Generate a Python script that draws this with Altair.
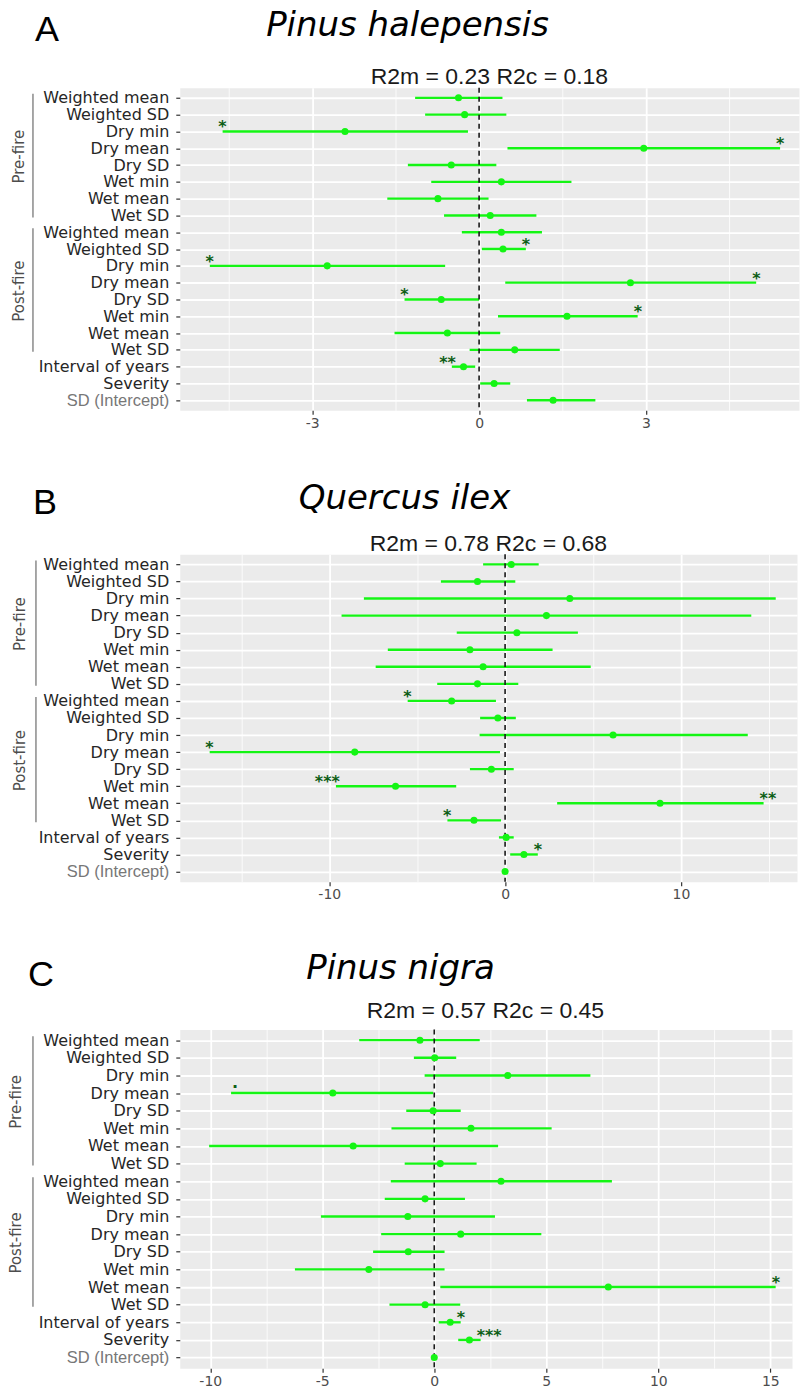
import altair as alt
import pandas as pd

# Fixed-effect rows, top to bottom
terms = ["Weighted mean", "Weighted SD", "Dry min", "Dry mean", "Dry SD",
         "Wet min", "Wet mean", "Wet SD"]
row_keys = (["pre|" + t for t in terms] + ["post|" + t for t in terms]
            + ["all|Interval of years", "all|Severity", "sd|SD (Intercept)"])

# A: Pinus halepensis
a_est = [-0.37, -0.26, -2.41, 2.96, -0.50, 0.40, -0.74, 0.20,
         0.40, 0.43, -2.73, 2.72, -0.68, 1.58, -0.57, 0.64,
         -0.28, 0.27, 1.33]
a_lo = [-1.15, -0.97, -4.61, 0.51, -1.28, -0.86, -1.65, -0.63,
        -0.31, 0.05, -4.84, 0.47, -1.34, 0.34, -1.52, -0.17,
        -0.49, 0.02, 0.86]
a_hi = [0.42, 0.49, -0.20, 5.41, 0.31, 1.66, 0.17, 1.03,
        1.13, 0.84, -0.61, 4.98, 0.00, 2.85, 0.38, 1.45,
        -0.07, 0.56, 2.09]
a_sig = ["", "", "*", "*", "", "", "", "",
         "", "*", "*", "*", "*", "*", "", "",
         "**", "", ""]

# B: Quercus ilex
b_est = [0.35, -1.57, 3.68, 2.35, 0.67, -2.00, -1.25, -1.57,
         -3.04, -0.41, 6.14, -8.55, -0.78, -6.23, 8.81, -1.77,
         0.06, 1.07, 0.00]
b_lo = [-1.25, -3.65, -8.03, -9.30, -2.75, -6.67, -7.36, -3.86,
        -5.54, -1.42, -1.45, -16.8, -2.00, -9.62, 2.96, -3.28,
        -0.35, 0.29, 0.00]
b_hi = [1.91, 0.58, 15.39, 14.00, 4.14, 2.70, 4.87, 0.75,
        -0.52, 0.61, 13.80, -0.29, 0.49, -2.78, 14.70, -0.23,
        0.49, 1.86, 0.00]
b_sig = ["", "", "", "", "", "", "", "",
         "*", "", "", "*", "", "***", "**", "*",
         "", "*", ""]

# C: Pinus nigra
c_est = [-0.64, 0.02, 3.28, -4.53, -0.05, 1.64, -3.62, 0.27,
         2.98, -0.41, -1.18, 1.18, -1.16, -2.92, 7.77, -0.41,
         0.71, 1.57, 0.00]
c_lo = [-3.35, -0.91, -0.43, -9.07, -1.25, -1.91, -10.05, -1.32,
        -1.94, -2.21, -5.06, -2.37, -2.73, -6.22, 0.27, -2.00,
        0.20, 1.07, 0.00]
c_hi = [2.03, 0.98, 6.97, -0.05, 1.18, 5.24, 2.85, 1.89,
        7.93, 1.37, 2.71, 4.78, 0.46, 0.46, 15.24, 1.16,
        1.18, 2.07, 0.00]
c_sig = ["", "", "", ".", "", "", "", "",
         "", "", "", "", "", "", "*", "",
         "*", "***", ""]

GREEN = "#14f514"
STAR = "#0d5e16"
SD_TEST = "datum.value == 'sd|SD (Intercept)'"


def panel(letter, species, r2, est, lo, hi, sig, domain, major, minor,
          width, height, lay):
    df = pd.DataFrame({"key": row_keys, "est": est, "lo": lo, "hi": hi,
                       "sig": sig})
    df["end"] = [l if e < 0 else h for e, l, h in zip(est, lo, hi)]
    step = height / 19.2

    major_js = "[" + ",".join(str(v) for v in major) + "]"
    is_major = f"indexof({major_js}, datum.value) >= 0"
    x_scale = alt.Scale(domain=domain, nice=False, zero=False)
    y_scale = alt.Scale(type="point", domain=row_keys, padding=0.6)

    x_axis = alt.Axis(
        title=None, values=sorted(major + minor),
        labelExpr=f"{is_major} ? '' + datum.value : ''",
        grid=True, gridColor="white",
        gridWidth={"condition": {"test": is_major, "value": 1.8}, "value": 0.8},
        tickOpacity={"condition": {"test": is_major, "value": 1}, "value": 0},
        tickColor="#333333", tickSize=4, tickWidth=1.2, domain=False,
        labelFont="DejaVu Sans", labelFontSize=14, labelColor="#4d4d4d",
        labelPadding=2,
    )
    y_axis = alt.Axis(
        title=None, labelExpr="split(datum.value, '|')[1]",
        labelFont={"condition": {"test": SD_TEST, "value": "Liberation Sans"},
                   "value": "DejaVu Sans"},
        labelColor={"condition": {"test": SD_TEST, "value": "#777777"},
                    "value": "#262626"},
        labelFontSize={"condition": {"test": SD_TEST, "value": 16.5},
                       "value": 16},
        labelLimit=300, labelPadding=7,
        grid=True, gridColor="white", gridWidth=1.8,
        tickColor="#333333", tickSize=4, tickWidth=1.2, domain=False,
    )

    def xq(field):
        return alt.X(field, type="quantitative", scale=x_scale, axis=x_axis)

    def yn(field):
        return alt.Y(field, type="nominal", scale=y_scale, axis=y_axis)

    base = alt.Chart(df)
    bars = base.mark_rule(color=GREEN, strokeWidth=2.4).encode(
        x=xq("lo"), x2="hi:Q", y=yn("key"),
    )
    zero = alt.Chart(pd.DataFrame({"z": [0]})).mark_rule(
        color="#1a1a1a", strokeDash=[5, 4], strokeWidth=1.6
    ).encode(x=xq("z"))
    dots = base.mark_circle(color=GREEN, opacity=1, size=50).encode(
        x=xq("est"), y=yn("key"),
    )

    star_font = dict(font="DejaVu Sans", fontWeight="bold", fontSize=16,
                     color=STAR, baseline="alphabetic")
    stars_neg = base.transform_filter(
        "datum.sig != '' && datum.sig != '.' && datum.est < 0"
    ).mark_text(align="right", dx=4, dy=1, **star_font).encode(
        x=xq("end"), y=yn("key"), text="sig:N",
    )
    stars_pos = base.transform_filter(
        "datum.sig != '' && datum.sig != '.' && datum.est >= 0"
    ).mark_text(align="left", dx=-4, dy=1, **star_font).encode(
        x=xq("end"), y=yn("key"), text="sig:N",
    )
    marginal = base.transform_filter("datum.sig == '.'").mark_text(
        align="right", dx=7, dy=-5, **star_font
    ).encode(x=xq("end"), y=yn("key"), text="sig:N")

    groups = pd.DataFrame({
        "lab": ["Pre-fire", "Post-fire"],
        "start": ["pre|Weighted mean", "post|Weighted mean"],
        "stop": ["pre|Wet SD", "post|Wet SD"],
        "mid": ["pre|Dry SD", "post|Dry SD"],
    })
    bracket = alt.Chart(groups).mark_rule(
        color="#8a8a8a", strokeWidth=1.5, yOffset=-4, y2Offset=2
    ).encode(
        x=alt.value(lay["line_x"]), y=yn("start"), y2="stop:N",
    )
    bracket_text = alt.Chart(groups).mark_text(
        font="DejaVu Sans", fontSize=15, color="#4d4d4d", angle=270,
        align="center", baseline="middle", yOffset=-step / 2,
    ).encode(
        x=alt.value(lay["text_x"]), y=yn("mid"), text="lab:N",
    )

    letter_mark = alt.Chart(pd.DataFrame({"t": [letter]})).mark_text(
        font="Liberation Sans", fontSize=36, color="black",
        align="left", baseline="alphabetic",
    ).encode(text="t:N", x=alt.value(lay["letter"][0]),
             y=alt.value(lay["letter"][1]))
    species_mark = alt.Chart(pd.DataFrame({"t": [species]})).mark_text(
        font="DejaVu Sans", fontStyle="italic", fontSize=34, color="black",
        align="center", baseline="alphabetic",
    ).encode(text="t:N", x=alt.value(lay["title"][0]),
             y=alt.value(lay["title"][1]))
    r2_mark = alt.Chart(pd.DataFrame({"t": [r2]})).mark_text(
        font="Liberation Sans", fontSize=23, color="#1a1a1a",
        align="center", baseline="alphabetic",
    ).encode(text="t:N", x=alt.value(lay["sub"][0]),
             y=alt.value(lay["sub"][1]))

    return alt.layer(
        bars, zero, dots, stars_neg, stars_pos, marginal,
        bracket, bracket_text, letter_mark, species_mark, r2_mark,
    ).properties(width=width, height=height)


pA = panel("A", "Pinus halepensis", "R2m = 0.23 R2c = 0.18",
           a_est, a_lo, a_hi, a_sig, [-5.38, 5.75],
           [-3, 0, 3], [-4.5, -1.5, 1.5, 4.5], 620, 323,
           {"line_x": -147, "text_x": -161, "letter": (-145, -47),
            "title": (228, -52), "sub": (310, -4)})
pB = panel("B", "Quercus ilex", "R2m = 0.78 R2c = 0.68",
           b_est, b_lo, b_hi, b_sig, [-18.5, 16.6],
           [-10, 0, 10], [-15, -5, 5, 15], 618, 328,
           {"line_x": -144, "text_x": -160, "letter": (-147, -40),
            "title": (225, -45), "sub": (309, -3)})
pC = panel("C", "Pinus nigra", "R2m = 0.57 R2c = 0.45",
           c_est, c_lo, c_hi, c_sig, [-11.36, 15.97],
           [-10, -5, 0, 5, 10, 15], [-7.5, -2.5, 2.5, 7.5, 12.5], 613, 339,
           {"line_x": -147, "text_x": -164, "letter": (-152, -44),
            "title": (221, -51), "sub": (306, -12)})

chart = alt.vconcat(
    alt.vconcat(pA, pB, spacing=50), pC, spacing=48
).properties(
    padding={"left": 8, "top": 7, "right": 0, "bottom": 0},
    background="white",
).configure_view(fill="#EBEBEB", stroke="transparent")

chart.save("out.html", embed_options={"renderer": "svg", "actions": False})
